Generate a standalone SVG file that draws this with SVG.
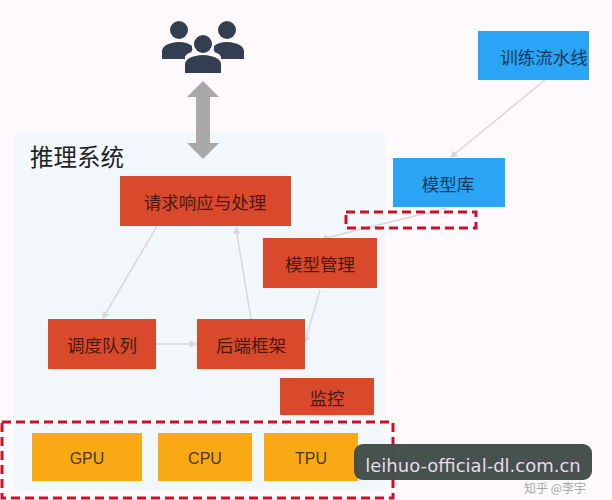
<svg xmlns="http://www.w3.org/2000/svg" width="612" height="500" viewBox="0 0 612 500">
<style>
text{font-family:"Noto Sans CJK SC","Liberation Sans",sans-serif;text-anchor:middle;dominant-baseline:central}
.r{fill:#d9492b}.b{fill:#2aa5f5}.o{fill:#f9a913}
.l{font-size:17.5px;fill:#4a1a10}.bl{font-size:17.5px;fill:#123a5c}.ol{font-size:16px;fill:#4a3a10;font-family:"Liberation Sans",sans-serif}
.c{fill:none;stroke:#d8d8dc;stroke-width:1.5;marker-end:url(#a)}
.d{fill:none;stroke:#cf0f25;stroke-width:3;stroke-dasharray:9 5}
</style>
<defs><marker id="a" markerWidth="5" markerHeight="5" refX="4" refY="2.5" orient="auto"><path d="M0 0L5 2.5L0 5Z" fill="#d8d8dc"/></marker></defs>
<rect width="612" height="500" fill="#fdf9fd"/>
<rect x="13" y="131" width="372" height="360" rx="8" fill="#f2f7fc"/>
<g id="users" fill="#333f50">
<circle cx="179" cy="30" r="9"/><circle cx="227" cy="30" r="9"/>
<path d="M162 59V51Q163 43 179 42Q187 42 192 46L192 48Q193 52 190 52L192 52Q184 54 185 59Z"/>
<path d="M244 59V51Q243 43 227 42Q219 42 214 46L214 48Q213 52 216 52L214 52Q222 54 221 59Z"/>
<circle cx="203" cy="44" r="9"/>
<path d="M185 73V64Q186 56 203 55Q220 56 221 64V73Z"/>
</g>
<g id="double-arrow"><path d="M203 81L219 97H210V143H219L203 159L187 143H196V97H187Z" fill="#aba8a9"/></g>
<text x="77" y="156" style="font-size:23.5px;fill:#222">推理系统</text>
<g id="connectors">
<path class="c" d="M545 80L451 157"/>
<path class="c" d="M447 208L322 239"/>
<path class="c" d="M157 226L103 318"/>
<path class="c" d="M251 319L236 228"/>
<path class="c" d="M156 344H196"/>
<path class="c" d="M320 290L305 342"/>
</g>
<g id="n-train"><rect class="b" x="478" y="31" width="111" height="49"/><text class="bl" x="544" y="56">训练流水线</text></g>
<g id="n-lib"><rect class="b" x="393" y="158" width="112" height="49"/><text class="bl" x="448" y="183">模型库</text></g>
<g id="n-req"><rect class="r" x="120" y="176" width="171" height="50"/><text class="l" x="205" y="201">请求响应与处理</text></g>
<g id="n-mgmt"><rect class="r" x="263" y="238" width="114" height="50"/><text class="l" x="320" y="263">模型管理</text></g>
<g id="n-queue"><rect class="r" x="48" y="319" width="108" height="50"/><text class="l" x="102" y="344">调度队列</text></g>
<g id="n-backend"><rect class="r" x="197" y="319" width="108" height="50"/><text class="l" x="251" y="344">后端框架</text></g>
<g id="n-mon"><rect class="r" x="280" y="378" width="94" height="37"/><text class="l" x="327" y="397">监控</text></g>
<g id="n-gpu"><rect class="o" x="32" y="433" width="110" height="48"/><text class="ol" x="87" y="458">GPU</text></g>
<g id="n-cpu"><rect class="o" x="158" y="433" width="94" height="48"/><text class="ol" x="205" y="458">CPU</text></g>
<g id="n-tpu"><rect class="o" x="264" y="433" width="94" height="48"/><text class="ol" x="311" y="458">TPU</text></g>
<rect class="d" x="346" y="212" width="130" height="16"/>
<rect class="d" x="2" y="422" width="391" height="76"/>
<text x="555" y="487" style="font-size:12px;fill:#a8a8a8">知乎 @李宇</text>
<rect x="354" y="444" width="238" height="36" rx="9" fill="#414b47" fill-opacity=".97"/>
<text x="473" y="465" style="font-size:18px;fill:#e6dcea;font-family:'DejaVu Sans',sans-serif">leihuo-official-dl.com.cn</text>
</svg>
